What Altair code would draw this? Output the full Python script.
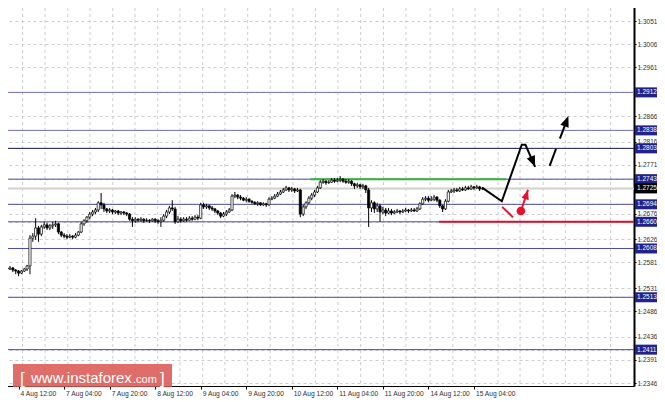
import json
import altair as alt
import pandas as pd

# ---------------- data (prices in 1/10000) ----------------
opens = [
12570, 12572, 12570, 12568, 12570, 12566, 12564, 12560, 12564, 12568,
12574, 12628, 12632, 12648, 12636, 12650, 12654, 12648, 12652, 12654,
12656, 12640, 12634, 12632, 12630, 12632, 12630, 12634, 12640, 12656,
12662, 12669, 12675, 12679, 12683, 12697, 12693, 12685, 12681, 12683,
12679, 12681, 12677, 12679, 12677, 12675, 12665, 12662, 12665, 12663,
12665, 12662, 12663, 12662, 12665, 12662, 12660, 12663, 12671, 12679,
12687, 12685, 12660, 12665, 12662, 12665, 12663, 12667, 12665, 12669,
12667, 12693, 12689, 12691, 12687, 12685, 12681, 12677, 12671, 12675,
12679, 12683, 12710, 12712, 12708, 12706, 12702, 12704, 12700, 12698,
12695, 12697, 12693, 12695, 12693, 12704, 12706, 12710, 12714, 12718,
12722, 12726, 12722, 12724, 12720, 12722, 12675, 12689, 12697, 12706,
12712, 12718, 12726, 12737, 12739, 12736, 12737, 12741, 12739, 12741,
12743, 12739, 12737, 12739, 12734, 12730, 12732, 12728, 12730, 12722,
12687, 12697, 12685, 12691, 12679, 12683, 12677, 12681, 12677, 12679,
12681, 12679, 12681, 12683, 12681, 12683, 12681, 12685, 12695, 12704,
12706, 12702, 12704, 12708, 12702, 12691, 12685, 12700, 12718, 12720,
12722, 12720, 12724, 12722, 12726, 12724, 12728, 12726, 12728, 12724]

highs = [
12576, 12574, 12572, 12574, 12572, 12568, 12566, 12566, 12570, 12576,
12634, 12638, 12667, 12652, 12654, 12660, 12658, 12656, 12660, 12662,
12658, 12642, 12638, 12636, 12636, 12634, 12638, 12642, 12660, 12665,
12671, 12679, 12683, 12687, 12700, 12716, 12697, 12687, 12687, 12685,
12683, 12683, 12681, 12681, 12679, 12677, 12669, 12669, 12667, 12669,
12667, 12667, 12665, 12667, 12667, 12665, 12669, 12675, 12683, 12691,
12702, 12689, 12671, 12669, 12669, 12669, 12671, 12671, 12673, 12673,
12697, 12697, 12695, 12693, 12691, 12687, 12683, 12679, 12679, 12683,
12687, 12714, 12718, 12714, 12712, 12708, 12708, 12706, 12702, 12700,
12700, 12698, 12698, 12697, 12708, 12710, 12714, 12718, 12722, 12726,
12730, 12728, 12728, 12726, 12726, 12724, 12693, 12700, 12710, 12716,
12722, 12730, 12741, 12743, 12741, 12741, 12745, 12745, 12745, 12749,
12745, 12743, 12743, 12741, 12736, 12736, 12734, 12734, 12732, 12726,
12702, 12700, 12697, 12695, 12689, 12687, 12687, 12685, 12683, 12685,
12683, 12685, 12687, 12685, 12687, 12687, 12689, 12698, 12708, 12710,
12710, 12710, 12712, 12710, 12704, 12693, 12704, 12722, 12724, 12726,
12726, 12728, 12728, 12730, 12730, 12732, 12730, 12732, 12730, 12728]

lows = [
12566, 12566, 12564, 12566, 12562, 12558, 12554, 12558, 12562, 12564,
12558, 12621, 12625, 12621, 12632, 12646, 12644, 12644, 12646, 12650,
12636, 12630, 12628, 12626, 12628, 12626, 12628, 12632, 12638, 12652,
12658, 12665, 12671, 12675, 12679, 12685, 12679, 12677, 12677, 12675,
12675, 12673, 12673, 12673, 12671, 12662, 12650, 12658, 12660, 12660,
12658, 12660, 12658, 12660, 12658, 12656, 12650, 12660, 12667, 12675,
12681, 12656, 12658, 12658, 12660, 12660, 12662, 12662, 12663, 12663,
12665, 12685, 12685, 12683, 12681, 12677, 12673, 12667, 12669, 12671,
12677, 12681, 12706, 12704, 12702, 12700, 12698, 12697, 12695, 12693,
12691, 12691, 12691, 12689, 12691, 12702, 12704, 12708, 12712, 12716,
12720, 12718, 12718, 12716, 12718, 12669, 12671, 12685, 12695, 12702,
12708, 12716, 12724, 12734, 12732, 12734, 12736, 12736, 12737, 12737,
12736, 12734, 12734, 12730, 12724, 12726, 12724, 12724, 12716, 12650,
12679, 12677, 12679, 12660, 12675, 12671, 12675, 12673, 12675, 12677,
12675, 12677, 12679, 12677, 12679, 12679, 12679, 12683, 12693, 12700,
12698, 12700, 12700, 12698, 12687, 12679, 12683, 12698, 12716, 12716,
12718, 12718, 12720, 12720, 12722, 12722, 12722, 12724, 12720, 12722]

closes = [
12572, 12570, 12568, 12570, 12566, 12564, 12560, 12564, 12568, 12574,
12628, 12632, 12648, 12636, 12650, 12654, 12648, 12652, 12654, 12656,
12640, 12634, 12632, 12630, 12632, 12630, 12634, 12640, 12656, 12662,
12669, 12675, 12679, 12683, 12697, 12693, 12685, 12681, 12683, 12679,
12681, 12677, 12679, 12677, 12675, 12665, 12662, 12665, 12663, 12665,
12662, 12663, 12662, 12665, 12662, 12660, 12663, 12671, 12679, 12687,
12685, 12660, 12665, 12662, 12665, 12663, 12667, 12665, 12669, 12667,
12693, 12689, 12691, 12687, 12685, 12681, 12677, 12671, 12675, 12679,
12683, 12710, 12712, 12708, 12706, 12702, 12704, 12700, 12698, 12695,
12697, 12693, 12695, 12693, 12704, 12706, 12710, 12714, 12718, 12722,
12726, 12722, 12724, 12720, 12722, 12675, 12689, 12697, 12706, 12712,
12718, 12726, 12737, 12739, 12736, 12737, 12741, 12739, 12741, 12743,
12739, 12737, 12739, 12734, 12730, 12732, 12728, 12730, 12722, 12687,
12697, 12685, 12691, 12679, 12683, 12677, 12681, 12677, 12679, 12681,
12679, 12681, 12683, 12681, 12683, 12681, 12685, 12695, 12704, 12706,
12702, 12704, 12708, 12702, 12691, 12685, 12700, 12718, 12720, 12722,
12720, 12724, 12722, 12726, 12724, 12728, 12726, 12728, 12724, 12725]

time_ticks = [6, 22, 38, 54, 70, 86, 102, 118, 134, 150, 166]
time_labels = ["4 Aug 12:00", "7 Aug 04:00", "7 Aug 20:00", "8 Aug 12:00",
               "9 Aug 04:00", "9 Aug 20:00", "10 Aug 12:00", "11 Aug 04:00",
               "11 Aug 20:00", "14 Aug 12:00", "15 Aug 04:00"]
grid_bars = [-0.5, 7.4, 15.3, 23.3, 31.1, 39.1, 46.9, 54.9, 62.7, 70.7, 78.5,
             86.5, 94.4, 102.4, 110.3, 118.2, 126.2, 134.2, 142.1, 150.6, 158.6,
             166.4, 174.5, 182.2, 190.3, 198.1, 206.1, 214.0]

scale_labels = [1.3051, 1.3006, 1.2961, 1.2866, 1.2816, 1.2771, 1.2676, 1.2626,
                1.2581, 1.2531, 1.2486, 1.2436, 1.2391, 1.2346]
levels = [1.2912, 1.2838, 1.2803, 1.2743, 1.2694, 1.2660, 1.2608, 1.2513, 1.2411]
level_colors = ["#7070c0", "#7070c0", "#14145a", "#4a4aa8", "#4a4aa8",
                "#4a4aa8", "#4a4aa8", "#4a4aa8", "#4a4aa8"]
bid_price = 1.2725

green_level = 1.2743
green_bars = [108.6, 177.3]
red_level = 1.2660
red_start = 153.7

# forecast path (bar index, price)
path_bars = [169, 175.8, 182.8, 184.1, 187.5]
path_prices = [1.2726, 1.2700, 1.2810, 1.2810, 1.2767]
dash_bars = [192.6, 199.2]
dash_prices = [1.2769, 1.2866]
red_stroke_bars = [175.9, 179.7]
red_stroke_prices = [1.2689, 1.2669]
red_arrow_bars = [182.5, 185.0]
red_arrow_prices = [1.2681, 1.2722]
head_bars = [187.5, 199.2, 185.0]
head_prices = [1.2767, 1.2866, 1.2722]
head_angles = [157, 21, 18]
head_colors = ["black", "black", "#e8102a"]
head_sizes = [121, 121, 90]

# ---------------- layout ----------------
# the page has an 8px margin and must not grow wider than the window,
# so the svg spans page x 8..657; scale ranges reach 8px back
OFF = 8
PW, PH = 634 - OFF, 386 - OFF

FONT = "Liberation Sans, Arial, sans-serif"
xs = alt.Scale(domain=[-0.527, 222.24], range=[-OFF, PW], nice=False, zero=False, padding=0)
ys = alt.Scale(domain=[1.23402, 1.30919], range=[PH, -OFF], nice=False, zero=False, padding=0)

candles = pd.DataFrame({
    "i": list(range(len(closes))),
    "o": [v / 10000 for v in opens],
    "h": [v / 10000 for v in highs],
    "l": [v / 10000 for v in lows],
    "c": [v / 10000 for v in closes],
})

label_expr = f"{json.dumps(time_labels)}[indexof({json.dumps(time_ticks)}, datum.value)]"

x_axis = alt.Axis(values=time_ticks, labelExpr=label_expr, orient="bottom",
                  grid=False, domain=True, domainColor="black", domainWidth=1,
                  ticks=True, tickColor="black", tickSize=3, tickWidth=1,
                  labelFont=FONT, labelFontSize=6.7, labelColor="#303030",
                  labelAlign="left", labelBaseline="top", labelPadding=1,
                  labelOffset=1.5, labelOverlap=False, labelFlush=False, title=None)

y_axis = alt.Axis(values=scale_labels + levels + [bid_price], orient="right",
                  format=".4f", grid=True, gridDash=[3, 3], gridColor="#cdcdcd",
                  gridWidth=1, domain=True, domainColor="black", domainWidth=2,
                  ticks=True, tickColor="black", tickSize=2, tickWidth=1,
                  labelFont=FONT, labelFontSize=6.5, labelColor="#303030",
                  labelPadding=1, labelAlign="left", labelBaseline="middle",
                  labelOverlap=False, labelFlush=False, title=None)


def X(field):
    return alt.X(field, scale=xs, axis=x_axis)


def Y(field):
    return alt.Y(field, scale=ys, axis=y_axis)


vgrid = alt.Chart(pd.DataFrame({"g": grid_bars})).mark_rule(
    color="#cdcdcd", strokeDash=[3, 3], strokeWidth=1
).encode(x=X("g:Q"))

bid_line = alt.Chart(pd.DataFrame({"p": [bid_price]})).mark_rule(
    color="#d0d0d0", strokeWidth=2
).encode(y=Y("p:Q"))

level_df = pd.DataFrame({"p": levels, "col": level_colors})
level_lines = alt.Chart(level_df).mark_rule(strokeWidth=1).encode(
    y=Y("p:Q"),
    color=alt.Color("col:N", scale=None),
)

green = alt.Chart(pd.DataFrame({"x1": [green_bars[0]], "x2": [green_bars[1]], "p": [green_level]})).mark_rule(
    color="#2fb92f", strokeWidth=2
).encode(x=X("x1:Q"), x2="x2:Q", y=Y("p:Q"))

red = alt.Chart(pd.DataFrame({"x1": [red_start], "p": [red_level]})).mark_rule(
    color="#e0102a", strokeWidth=2
).encode(x=X("x1:Q"), x2=alt.value(PW), y=Y("p:Q"))

wicks = alt.Chart(candles).mark_rule(color="black", strokeWidth=1).encode(
    x=X("i:Q"), y=Y("l:Q"), y2="h:Q",
)

bodies = alt.Chart(candles).mark_bar(size=2.2, stroke="black", strokeWidth=0.7).encode(
    x=X("i:Q"), y=Y("o:Q"), y2="c:Q",
    fill=alt.condition("datum.c >= datum.o", alt.value("white"), alt.value("black")),
)


def path_chart(bars, prices, color, dash=None):
    df = pd.DataFrame({"b": bars, "p": prices, "k": list(range(len(bars)))})
    kw = dict(color=color, strokeWidth=2, strokeCap="butt")
    if dash:
        kw["strokeDash"] = dash
    return alt.Chart(df).mark_line(**kw).encode(
        x=X("b:Q"), y=Y("p:Q"), order="k:Q",
    )


black_path = path_chart(path_bars, path_prices, "black")
dash_path = path_chart(dash_bars, dash_prices, "black", [18, 11])
red_stroke = path_chart(red_stroke_bars, red_stroke_prices, "#e8102a")
red_arrow = path_chart(red_arrow_bars, red_arrow_prices, "#e8102a")

red_dot = alt.Chart(pd.DataFrame({"b": [red_arrow_bars[0]], "p": [red_arrow_prices[0]]})).mark_circle(
    size=75, color="#e8102a", opacity=1
).encode(x=X("b:Q"), y=Y("p:Q"))

heads_df = pd.DataFrame({"b": head_bars, "p": head_prices, "a": head_angles,
                         "col": head_colors, "s": head_sizes})
heads = alt.Chart(heads_df).mark_point(
    shape="M0,0 L0.8,2 L-0.8,2 Z", filled=True, opacity=1, strokeWidth=0
).encode(
    x=X("b:Q"), y=Y("p:Q"),
    angle=alt.Angle("a:Q", scale=None),
    color=alt.Color("col:N", scale=None),
    size=alt.Size("s:Q", scale=None),
)

box_df = pd.DataFrame({
    "p": levels + [bid_price],
    "txt": [f"{v:.4f}" for v in levels + [bid_price]],
    "col": ["#22228a"] * len(levels) + ["black"],
})
boxes = alt.Chart(box_df).mark_point(
    shape="M-2.2,-1 L2.2,-1 L2.2,1 L-2.2,1 Z", filled=True, opacity=1, size=100, strokeWidth=0
).encode(
    x=alt.value(646 - OFF), y=Y("p:Q"),
    color=alt.Color("col:N", scale=None),
)
box_text = alt.Chart(box_df).mark_text(
    align="left", baseline="middle", color="white", font=FONT, fontSize=6.5
).encode(
    x=alt.value(637 - OFF), y=Y("p:Q"), text="txt:N",
)

one = pd.DataFrame({"d": [0]})
wm_rect = alt.Chart(one).mark_rect(color="#d9534f", opacity=0.85).encode(
    x=alt.value(13 - OFF), x2=alt.value(172 - OFF),
    y=alt.value(364 - OFF), y2=alt.value(387 - OFF)
)
wm_parts = [
    ("[", 20, 384, 17),
    ("www.instaforex", 31, 383, 15),
    (".com", 133, 383, 11),
    ("]", 160, 384, 17),
]
wm_texts = [
    alt.Chart(one).mark_text(text=t, align="left", baseline="alphabetic",
                             color="white", font="Liberation Sans, Arial, sans-serif",
                             fontSize=fs).encode(x=alt.value(xv - OFF), y=alt.value(yv - OFF))
    for (t, xv, yv, fs) in wm_parts
]

chart = alt.layer(
    vgrid, bid_line, level_lines, green, red, wicks, bodies,
    black_path, dash_path, red_stroke, red_arrow, red_dot, heads,
    boxes, box_text, wm_rect, *wm_texts,
).properties(
    width=PW, height=PH,
    padding={"left": 0, "top": 0, "right": 23, "bottom": 16},
    autosize=alt.AutoSizeParams(type="none"),
    background="white",
).configure_view(stroke=None)

chart.save("out.html", embed_options={"renderer": "svg", "actions": False})
